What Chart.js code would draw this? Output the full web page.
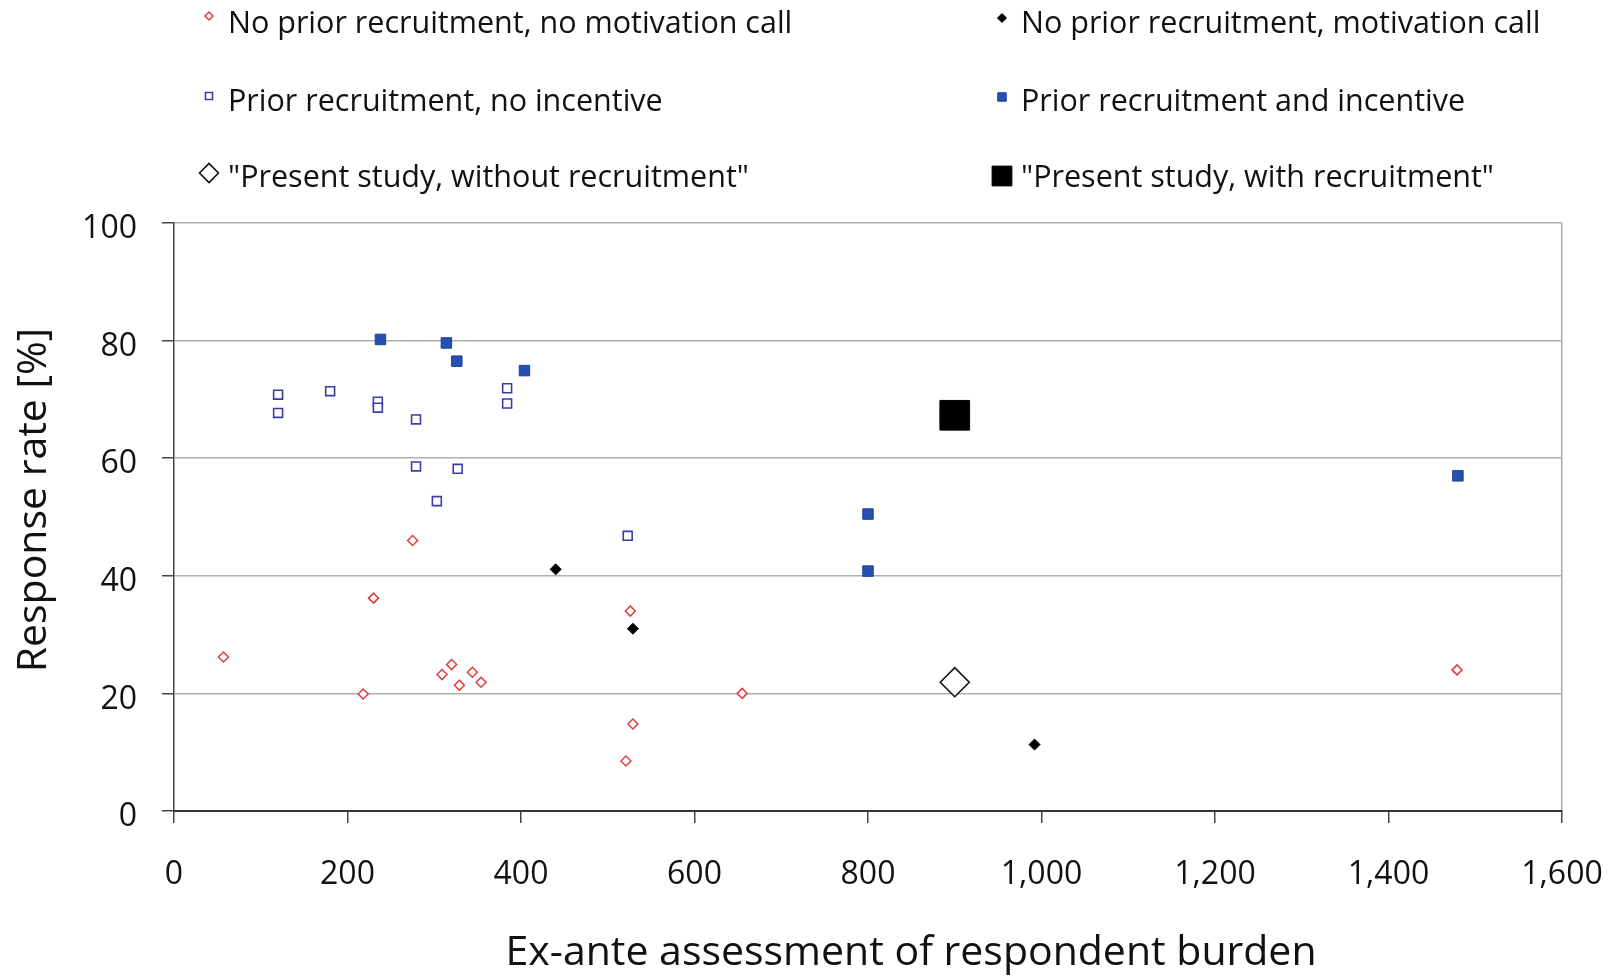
<!DOCTYPE html>
<html>
<head>
<meta charset="utf-8">
<title>Response rate vs. respondent burden</title>
<script src="https://cdn.jsdelivr.net/npm/chart.js@4.4.1/dist/chart.umd.min.js"></script>
<style>
  html, body { margin: 0; padding: 0; background: #fff; }
  canvas { display: block; }
</style>
</head>
<body>
<canvas id="chart" width="1614" height="978"></canvas>
<script>
// Survey response rates plotted against the ex-ante burden score, by design group
const seriesLabels = [
  'No prior recruitment, no motivation call',
  'No prior recruitment, motivation call',
  'Prior recruitment, no incentive',
  'Prior recruitment and incentive',
  '"Present study, without recruitment"',
  '"Present study, with recruitment"'
];

const burdenNoPriorNoCall = [57, 230, 218, 275, 309, 320, 329, 344, 354, 526, 529, 521, 655, 1479];
const rateNoPriorNoCall   = [26.2, 36.2, 19.9, 46.0, 23.2, 24.9, 21.4, 23.6, 21.9, 34.0, 14.8, 8.5, 20.0, 24.0];

const burdenNoPriorCall = [440, 529, 992];
const rateNoPriorCall   = [41.1, 31.0, 11.3];

const burdenPriorNoIncentive = [120, 120, 180, 235, 235, 279, 279, 327, 303, 384, 384, 523];
const ratePriorNoIncentive   = [70.8, 67.7, 71.4, 69.6, 68.6, 66.6, 58.6, 58.2, 52.7, 71.9, 69.3, 46.8];

const burdenPriorIncentive = [238, 314, 326, 404, 800, 800, 1480];
const ratePriorIncentive   = [80.2, 79.6, 76.5, 74.9, 50.5, 40.8, 57.0];

const burdenPresentWithout = [900];
const ratePresentWithout   = [21.9];

const burdenPresentWith = [900];
const ratePresentWith   = [67.3];

const xAxisTitle = 'Ex-ante assessment of respondent burden';
const yAxisTitle = 'Response rate [%]';

const FONT = '"Open Sans", "Noto Sans", sans-serif';
const TEXT = '#111';

function points(xs, ys) {
  return xs.map((x, i) => ({ x: x, y: ys[i] }));
}

const datasets = [
  { label: seriesLabels[0], data: points(burdenNoPriorNoCall, rateNoPriorNoCall),
    pointStyle: 'rectRot', pointRadius: 5, pointBorderWidth: 1.5,
    pointBackgroundColor: '#ffffff', pointBorderColor: '#e03c3c',
    legendRadius: 4, legendDy: -6 },
  { label: seriesLabels[1], data: points(burdenNoPriorCall, rateNoPriorCall),
    pointStyle: 'rectRot', pointRadius: 5.5, pointBorderWidth: 1,
    pointBackgroundColor: '#000000', pointBorderColor: '#000000',
    legendRadius: 4.5, legendDy: -4 },
  { label: seriesLabels[2], data: points(burdenPriorNoIncentive, ratePriorNoIncentive),
    pointStyle: 'rect', pointRadius: 6.3, pointBorderWidth: 1.6,
    pointBackgroundColor: '#ffffff', pointBorderColor: '#3b3da6',
    legendRadius: 5, legendDy: -4 },
  { label: seriesLabels[3], data: points(burdenPriorIncentive, ratePriorIncentive),
    pointStyle: 'rect', pointRadius: 7.4, pointBorderWidth: 1,
    pointBackgroundColor: '#2551b5', pointBorderColor: '#1d3f96',
    legendRadius: 6, legendDy: -3 },
  { label: seriesLabels[4], data: points(burdenPresentWithout, ratePresentWithout),
    pointStyle: 'rectRot', pointRadius: 14.5, pointBorderWidth: 1.6,
    pointBackgroundColor: '#ffffff', pointBorderColor: '#111111',
    legendRadius: 9.5, legendDy: -3 },
  { label: seriesLabels[5], data: points(burdenPresentWith, ratePresentWith),
    pointStyle: 'rect', pointRadius: 21, pointBorderWidth: 1,
    pointBackgroundColor: '#000000', pointBorderColor: '#000000',
    legendRadius: 14, legendDy: 0 }
];

// Two-column legend above the plot area
const legendColumns = [
  { markerX: 209, textX: 228, items: [0, 2, 4] },
  { markerX: 1002, textX: 1021, items: [1, 3, 5] }
];
const legendRowBaselines = [33, 111, 187];

const legendPlugin = {
  id: 'twoColumnLegend',
  afterDraw(chart) {
    const ctx = chart.ctx;
    ctx.save();
    ctx.font = '30.5px ' + FONT;
    ctx.textAlign = 'left';
    ctx.textBaseline = 'alphabetic';
    legendColumns.forEach(col => {
      col.items.forEach((dsIndex, row) => {
        const ds = chart.data.datasets[dsIndex];
        const base = legendRowBaselines[row];
        const cy = base - 11 + ds.legendDy;
        ctx.fillStyle = ds.pointBackgroundColor;
        ctx.strokeStyle = ds.pointBorderColor;
        ctx.lineWidth = ds.pointBorderWidth;
        Chart.helpers.drawPoint(ctx, {
          pointStyle: ds.pointStyle,
          radius: ds.legendRadius,
          rotation: 0,
          borderWidth: ds.pointBorderWidth
        }, col.markerX, cy);
        ctx.fillStyle = TEXT;
        ctx.fillText(ds.label, col.textX, base);
      });
    });
    ctx.restore();
  }
};

// Axis titles placed relative to the chart area
const axisTitlePlugin = {
  id: 'axisTitles',
  afterDraw(chart) {
    const ctx = chart.ctx;
    const area = chart.chartArea;
    ctx.save();
    ctx.fillStyle = TEXT;
    ctx.textAlign = 'center';
    ctx.textBaseline = 'alphabetic';
    ctx.font = '41px ' + FONT;
    ctx.fillText(xAxisTitle, 911, area.bottom + 154);

    ctx.font = '41px ' + FONT;
    ctx.translate(46, 500);
    ctx.rotate(-Math.PI / 2);
    ctx.fillText(yAxisTitle, 0, 0);
    ctx.restore();
  }
};

new Chart(document.getElementById('chart'), {
  type: 'scatter',
  data: { datasets: datasets },
  options: {
    responsive: false,
    animation: false,
    devicePixelRatio: 1,
    layout: { padding: { top: 223, right: 52, bottom: 0, left: 0 } },
    plugins: {
      legend: { display: false },
      tooltip: { enabled: false },
      title: { display: false }
    },
    scales: {
      x: {
        type: 'linear',
        min: 0,
        max: 1600,
        ticks: {
          stepSize: 200,
          autoSkip: false,
          maxRotation: 0,
          padding: 33,
          color: TEXT,
          font: { family: FONT, size: 32 },
          callback: v => v.toLocaleString('en-US')
        },
        grid: {
          color: c => (c.tick && c.tick.value === 1600) ? '#a9a9a9' : 'rgba(0,0,0,0)',
          lineWidth: 1.5,
          tickColor: '#444',
          tickLength: 12,
          tickWidth: 1.5
        },
        border: { color: '#333', width: 2 },
        afterFit: s => {
          s.height = 167;
          s.paddingLeft = 0;
          s.paddingRight = 0;
        }
      },
      y: {
        type: 'linear',
        min: 0,
        max: 100,
        ticks: {
          stepSize: 20,
          padding: 25,
          color: TEXT,
          font: { family: FONT, size: 32 },
          labelOffset: 6
        },
        grid: {
          color: '#b0b0b0',
          lineWidth: 1.5,
          tickColor: '#444',
          tickLength: 12,
          tickWidth: 1.5
        },
        border: { color: '#444', width: 1.5 },
        afterFit: s => { s.width = 174; }
      }
    }
  },
  plugins: [legendPlugin, axisTitlePlugin]
});
</script>
</body>
</html>
